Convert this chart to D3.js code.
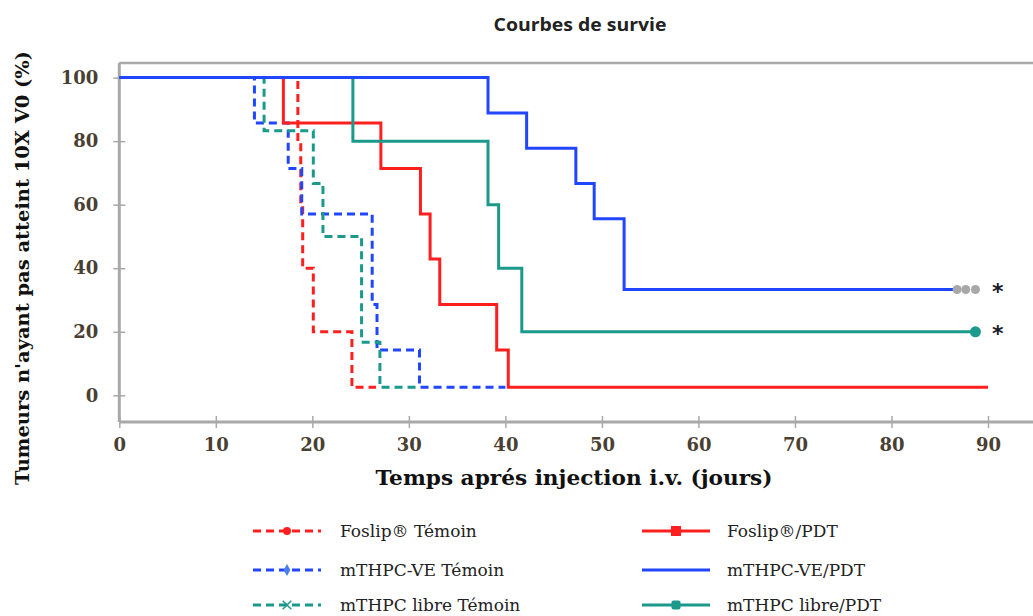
<!DOCTYPE html>
<html><head><meta charset="utf-8">
<script src="https://cdn.jsdelivr.net/npm/d3@7"></script>
<style>
html,body{margin:0;padding:0;background:#fff;}
svg{display:block;}
</style></head>
<body>
<svg id="chart" width="1033" height="616"></svg>
<script>
// ---- data ----
const xTicks = [0,10,20,30,40,50,60,70,80,90];
const yTicks = [0,20,40,60,80,100];
const seriesNames = ["Foslip® Témoin","mTHPC-VE Témoin","mTHPC libre Témoin","Foslip®/PDT","mTHPC-VE/PDT","mTHPC libre/PDT"];
const foslipTemoinT = [0,18.5,18.8,19.0,20.1,24.1,26.6];
const foslipTemoinV = [100,80,60,40,20,2.5,2.5];
const veTemoinT = [0,14.0,17.5,18.9,26.2,26.7,31.1,40.0];
const veTemoinV = [100,85.7,71.4,57.1,28.6,14.3,2.5,2.5];
const libreTemoinT = [0,15.0,20.1,21.1,25.1,27.0,31.1];
const libreTemoinV = [100,83.3,66.7,50,16.7,2.5,2.5];
const foslipPdtT = [0,17.0,27.1,31.2,32.2,33.2,39.1,40.3,90];
const foslipPdtV = [100,85.7,71.4,57.1,42.9,28.6,14.3,2.5,2.5];
const vePdtT = [0,38.2,42.2,47.3,49.2,52.3,86.8];
const vePdtV = [100,88.9,77.8,66.7,55.6,33.3,33.3];
const librePdtT = [0,24.2,38.2,39.3,41.7,88.7];
const librePdtV = [100,80,60,40,20,20];
const veCensorT = [86.8,87.7,88.7];
const veCensorV = [33.3,33.3,33.3];
const libreCensorT = [88.7];
const libreCensorV = [20];
const starT = [91.0,91.0];
const starV = [33.3,20];

const RED="#ff1f1f", BLUE="#2146ff", TEAL="#1b998b";
const series = [
  {name:seriesNames[0], t:foslipTemoinT, v:foslipTemoinV, color:RED, dash:"8,5", marker:"circle"},
  {name:seriesNames[1], t:veTemoinT, v:veTemoinV, color:BLUE, dash:"8,5", marker:"diamond"},
  {name:seriesNames[2], t:libreTemoinT, v:libreTemoinV, color:TEAL, dash:"8,5", marker:"cross"},
  {name:seriesNames[3], t:foslipPdtT, v:foslipPdtV, color:RED, dash:null, marker:"square"},
  {name:seriesNames[4], t:vePdtT, v:vePdtV, color:BLUE, dash:null, marker:null},
  {name:seriesNames[5], t:librePdtT, v:librePdtV, color:TEAL, dash:null, marker:"rsquare"}
];

const svg = d3.select("#chart");
const x = d3.scaleLinear().domain([0,90]).range([119.3,988]);
const y = d3.scaleLinear().domain([-8.4,104.6]).range([422,63]);
const AX="#a9a9a9";
const SERIF="'DejaVu Serif','Liberation Serif',serif";

// frame top
svg.append("line").attr("x1",119.3).attr("x2",1033).attr("y1",63).attr("y2",63)
  .attr("stroke",AX).attr("stroke-width",2.5);

// axes
const xAxis = svg.append("g").attr("transform","translate(0,422)")
  .call(d3.axisBottom(x).tickValues(xTicks).tickSize(6).tickSizeOuter(0).tickPadding(10));
xAxis.select(".domain").remove();
xAxis.append("line").attr("x1",119.3).attr("x2",1033).attr("stroke",AX).attr("stroke-width",3);
xAxis.selectAll(".tick line").attr("y1",-6).attr("y2",6).attr("stroke",AX).attr("stroke-width",1.5);
xAxis.selectAll(".tick text").attr("font-family",SERIF)
  .attr("font-size",18).attr("font-weight","bold").attr("fill","#4a3f33");

const yAxis = svg.append("g").attr("transform","translate(119.3,0)")
  .call(d3.axisLeft(y).tickValues(yTicks).tickSize(6).tickSizeOuter(0).tickPadding(15));
yAxis.select(".domain").remove();
yAxis.append("line").attr("y1",63).attr("y2",422).attr("stroke",AX).attr("stroke-width",3);
yAxis.selectAll(".tick line").attr("x1",-6).attr("x2",6).attr("stroke",AX).attr("stroke-width",1.5);
yAxis.selectAll(".tick text").attr("font-family",SERIF)
  .attr("font-size",18).attr("font-weight","bold").attr("fill","#4a3f33");

// curves
const line = d3.line().x(d=>x(d[0])).y(d=>y(d[1])).curve(d3.curveStepAfter);
const order = [0,1,2,3,5,4];
order.forEach(i=>{
  const s = series[i];
  const pts = s.t.map((t,j)=>[t,s.v[j]]);
  svg.append("path").attr("d",line(pts)).attr("fill","none")
    .attr("stroke",s.color).attr("stroke-width",3)
    .attr("stroke-dasharray",s.dash);
});

// censor marks
svg.selectAll(".cve").data(veCensorT.map((t,i)=>[t,veCensorV[i]])).enter().append("circle")
  .attr("cx",d=>x(d[0])).attr("cy",d=>y(d[1])).attr("r",4.5).attr("fill","#a8a8a8");
svg.selectAll(".clib").data(libreCensorT.map((t,i)=>[t,libreCensorV[i]])).enter().append("circle")
  .attr("cx",d=>x(d[0])).attr("cy",d=>y(d[1])).attr("r",5.5).attr("fill",TEAL);
svg.selectAll(".star").data(starT.map((t,i)=>[t,starV[i]])).enter().append("text")
  .attr("x",d=>x(d[0])).attr("y",d=>y(d[1])+9).attr("text-anchor","middle")
  .attr("font-family","'DejaVu Sans',sans-serif").attr("font-size",22).attr("font-weight","bold")
  .attr("fill","#1a1a2a").text("*");

// titles
svg.append("text").attr("x",580).attr("y",31).attr("text-anchor","middle")
  .attr("font-family","'Open Sans','DejaVu Sans',sans-serif").attr("font-size",17).attr("font-weight","bold")
  .attr("textLength",173).attr("lengthAdjust","spacingAndGlyphs")
  .attr("fill","#222").text("Courbes de survie");
svg.append("text").attr("x",574).attr("y",485).attr("text-anchor","middle")
  .attr("font-family",SERIF).attr("font-size",20).attr("font-weight","bold")
  .attr("textLength",397).attr("lengthAdjust","spacingAndGlyphs")
  .attr("fill","#111").text("Temps aprés injection i.v. (jours)");
svg.append("text").attr("transform","translate(29,268) rotate(-90)").attr("text-anchor","middle")
  .attr("font-family",SERIF).attr("font-size",19).attr("font-weight","bold")
  .attr("textLength",434).attr("lengthAdjust","spacingAndGlyphs")
  .attr("fill","#111").text("Tumeurs n'ayant pas atteint 10X V0 (%)");

// legend
const legPos = [[253,531],[253,570],[253,605],[642,531],[642,570],[642,605]];
series.forEach((s,i)=>{
  const [lx,ly] = legPos[i];
  const g = svg.append("g");
  g.append("line").attr("x1",lx).attr("x2",lx+68).attr("y1",ly).attr("y2",ly)
    .attr("stroke",s.color).attr("stroke-width",3).attr("stroke-dasharray",s.dash);
  const cx = lx+34;
  if(s.marker==="circle") g.append("circle").attr("cx",cx).attr("cy",ly).attr("r",4).attr("fill",s.color);
  if(s.marker==="diamond") g.append("path").attr("d",d3.symbol(d3.symbolDiamond,40)()).attr("transform",`translate(${cx},${ly})`).attr("fill","#4a7ff0");
  if(s.marker==="cross") g.append("path").attr("d",d3.symbol(d3.symbolX,50)()).attr("transform",`translate(${cx},${ly})`).attr("stroke",s.color).attr("stroke-width",1.5).attr("fill","none");
  if(s.marker==="square") g.append("rect").attr("x",cx-5).attr("y",ly-5).attr("width",10).attr("height",10).attr("fill",s.color);
  if(s.marker==="rsquare") g.append("rect").attr("x",cx-4.5).attr("y",ly-4.5).attr("width",9).attr("height",9).attr("rx",2).attr("fill",s.color);
  g.append("text").attr("x",lx+(i<3?87:85)).attr("y",ly+6)
    .attr("font-family",SERIF).attr("font-size",17)
    .attr("fill","#222").text(s.name);
});
</script>
</body></html>
